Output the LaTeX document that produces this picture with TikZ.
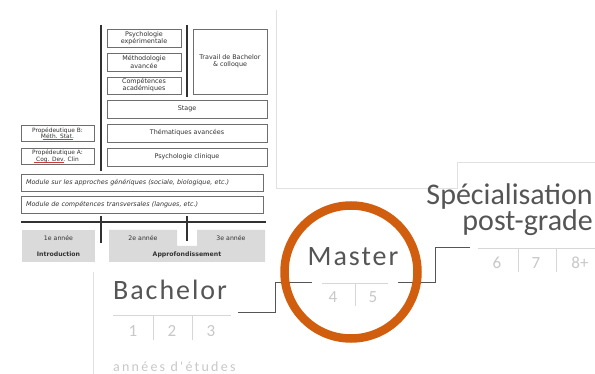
\documentclass[tikz,border=0pt]{standalone}
\usepackage{fontspec}
\setmainfont{DejaVu Sans}
\newfontfamily\bigfont{Carlito}
\newfontfamily\spacedfont[LetterSpace=7]{Carlito}
\newfontfamily\smallspaced[LetterSpace=16]{Carlito}
\usetikzlibrary{calc}
\definecolor{boxline}{RGB}{110,110,110}
\definecolor{darkline}{RGB}{50,50,50}
\definecolor{graybox}{RGB}{218,218,218}
\definecolor{frame}{RGB}{225,225,225}
\definecolor{bigtext}{RGB}{85,85,85}
\definecolor{digit}{RGB}{200,200,200}
\definecolor{sep}{RGB}{215,215,215}
\definecolor{ring}{RGB}{209,94,14}
\definecolor{squig}{RGB}{200,60,60}
\tikzset{
  box/.style={draw=boxline, line width=0.7pt, fill=white, inner sep=0pt, align=center,
    font=\fontsize{6.4}{7.1}\selectfont, text=darkline},
  modbox/.style={box, font=\fontsize{6.4}{7}\selectfont\itshape, text width=232pt, align=left},
  thick/.style={draw=darkline, line width=1.4pt},
  framel/.style={draw=frame, line width=0.7pt},
  gfill/.style={fill=graybox, draw=none},
  glabel/.style={font=\fontsize{6.2}{7}\selectfont, text=darkline, inner sep=0pt},
  gbold/.style={glabel, font=\fontsize{6.2}{7}\selectfont\bfseries},
  conn/.style={draw=bigtext, line width=1pt},
  faintl/.style={draw=sep, line width=0.8pt},
  dig/.style={font=\bigfont\fontsize{17}{17}\selectfont, text=digit, inner sep=0pt},
}
\begin{document}
\begin{tikzpicture}[x=1pt,y=-1pt]
\useasboundingbox (0,0) rectangle (595,374);
\fill[white] (0,0) rectangle (595,374);
% faint frames
\draw[framel] (276,10) -- (276,188) -- (457,188) -- (457,162) -- (595,162);
\draw[framel] (93,272) -- (93,374);
% thick vertical lines
\coordinate (v1t) at (101,25); \coordinate (v1b) at (101,171);
\coordinate (v2t) at (187,25); \coordinate (v2b) at (187,97);
\draw[thick] (v1t) -- (v1b);
\draw[thick] (v2t) -- (v2b);
% boxes
\node[box, minimum width=74pt, minimum height=18pt] (psy) at (144,38) {Psychologie\\expérimentale};
\node[box, minimum width=74pt, minimum height=18pt] (meth) at (144,62) {Méthodologie\\avancée};
\node[box, minimum width=74pt, minimum height=17pt] (comp) at (144,85.5) {Compétences\\académiques};
\node[box, minimum width=74pt, minimum height=65pt] (trav) at (230,61.5) {Travail de Bachelor\\\& colloque};
\node[box, minimum width=160pt, minimum height=18pt] (stage) at (187,109) {Stage};
\node[box, minimum width=160pt, minimum height=18pt] (them) at (187,133) {Thématiques avancées};
\node[box, minimum width=160pt, minimum height=18pt] (clin) at (187,157) {Psychologie clinique};
\node[box, minimum width=73pt, minimum height=16pt, font=\fontsize{5.9}{6.6}\selectfont] (propB) at (57.5,133) {Propédeutique B:\\Méth. Stat.};
\node[box, minimum width=73pt, minimum height=16pt, font=\fontsize{5.9}{6.6}\selectfont] (propA) at (57.5,156) {Propédeutique A:\\Cog. Dev. Clin};
\draw[squig, line width=0.4pt] ($(propB.south)+(-15,-1.8)$) -- ($(propB.south)+(15,-1.8)$);
\draw[squig, line width=0.4pt] ($(propA.south)+(-24,-1.8)$) -- ($(propA.south)+(6,-1.8)$);
\node[modbox, minimum width=242pt, minimum height=17pt] (modA) at (142,182.5) {Module sur les approches génériques (sociale, biologique, etc.)};
\node[modbox, minimum width=242pt, minimum height=17pt] (modB) at (142,204.5) {Module de compétences transversales (langues, etc.)};
% horizontal line
\coordinate (hl) at (21,222); \coordinate (hr) at (266,222);
\draw[thick] (hl) -- (hr);
% gray boxes
\node[gfill, minimum width=73pt, minimum height=32pt, inner sep=0pt] (intro) at (58.5,246) {};
\fill[graybox] (109,230) -- (177,230) -- (177,246) -- (197,246) -- (197,230) -- (265,230) -- (265,262) -- (109,262) -- cycle;
\coordinate (t1) at (101,216); \coordinate (b1) at (101,243);
\coordinate (t2) at (187,216); \coordinate (b2) at (187,241);
\draw[thick, line width=1.2pt] (t1) -- (b1);
\draw[thick, line width=1.2pt] (t2) -- (b2);
\node[glabel] (y1) at (58.5,238) {1e année};
\node[gbold] (intr) at (58.5,254.5) {Introduction};
\node[glabel] (y2) at (143,238) {2e année};
\node[glabel] (y3) at (231,238) {3e année};
\node[gbold] (appr) at (187,254.5) {Approfondissement};
% Bachelor
\node[font=\spacedfont\fontsize{28}{28}\selectfont, text=bigtext, anchor=base west, inner sep=0pt] (bach) at (113,300) {Bachelor};
\draw[faintl] (113,315) -- (231,315);
\draw[faintl] (153,315) -- (153,340);
\draw[faintl] (192,315) -- (192,340);
\node[dig] (d1) at (133,331) {1};
\node[dig] (d2) at (172,331) {2};
\node[dig] (d3) at (211,331) {3};
\node[font=\smallspaced\fontsize{14}{14}\selectfont, text=digit, anchor=base west, inner sep=0pt] (annees) at (113,371) {années d'études};
% Master
\node[font=\spacedfont\fontsize{28}{28}\selectfont, text=bigtext, anchor=base, inner sep=0pt] (mast) at (353,266) {Master};
\draw[faintl] (322,283) -- (388,283);
\draw[faintl] (355,283) -- (355,306);
\node[dig] (d4) at (333,297) {4};
\node[dig] (d5) at (373,297) {5};
% Specialisation
\node[font=\bigfont\fontsize{30}{25}\selectfont, text=bigtext, align=right, anchor=north east, inner sep=0pt] (spec) at (593,183) {Spécialisation\\post-grade};
\draw[faintl] (478,248) -- (595,248);
\draw[faintl] (518,248) -- (518,272);
\draw[faintl] (556,248) -- (556,272);
\node[dig] (d6) at (497,263) {6};
\node[dig] (d7) at (536,263) {7};
\node[dig] (d8) at (580,263) {8+};
% connectors
\coordinate (c0) at (238,313);
\coordinate (c1) at (312,283);
\coordinate (c2) at (398,283);
\coordinate (c3) at (470,248);
\draw[conn] (c0) -- (275,313) -- (275,283) -- (c1);
\draw[conn] (c2) -- (435,283) -- (435,248) -- (c3);
% ring
\draw[ring, line width=8.5pt] (351,272) circle (66.5);
\end{tikzpicture}
\end{document}
